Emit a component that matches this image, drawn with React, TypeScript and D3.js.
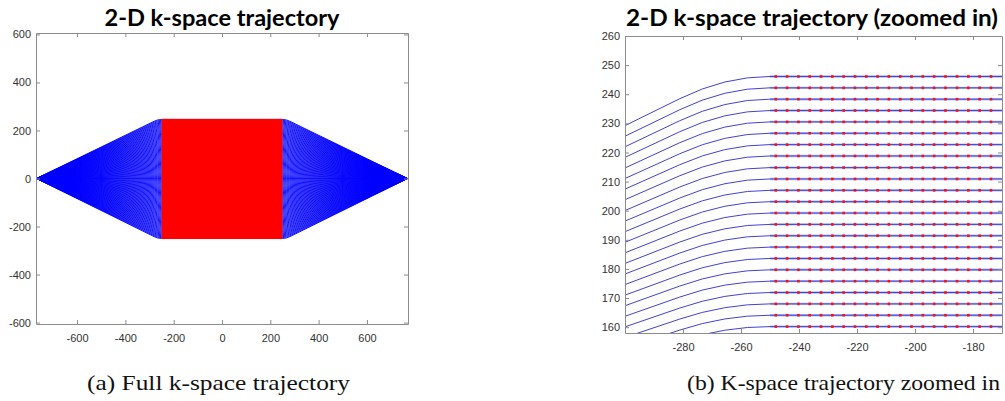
import React, { useEffect, useRef } from 'react';
import * as d3 from 'd3';

// phase-encode lines (ky), 128 of them
const kyLines = [
  -250.0, -246.1, -242.2, -238.3, -234.4, -230.5, -226.6, -222.7, -218.8, -214.8, -210.9, -207.0, -203.1, -199.2, -195.3, -191.4,
  -187.5, -183.6, -179.7, -175.8, -171.9, -168.0, -164.1, -160.2, -156.3, -152.3, -148.4, -144.5, -140.6, -136.7, -132.8, -128.9,
  -125.0, -121.1, -117.2, -113.3, -109.4, -105.5, -101.6, -97.7, -93.8, -89.8, -85.9, -82.0, -78.1, -74.2, -70.3, -66.4,
  -62.5, -58.6, -54.7, -50.8, -46.9, -43.0, -39.1, -35.2, -31.3, -27.3, -23.4, -19.5, -15.6, -11.7, -7.8, -3.9,
  0, 3.9, 7.8, 11.7, 15.6, 19.5, 23.4, 27.3, 31.3, 35.2, 39.1, 43.0, 46.9, 50.8, 54.7, 58.6,
  62.5, 66.4, 70.3, 74.2, 78.1, 82.0, 85.9, 89.8, 93.8, 97.7, 101.6, 105.5, 109.4, 113.3, 117.2, 121.1,
  125.0, 128.9, 132.8, 136.7, 140.6, 144.5, 148.4, 152.3, 156.3, 160.2, 164.1, 168.0, 171.9, 175.8, 179.7, 183.6,
  187.5, 191.4, 195.3, 199.2, 203.1, 207.0, 210.9, 214.8, 218.8, 222.7, 226.6, 230.5, 234.4, 238.3, 242.2, 246.1,
];

// readout sample positions (kx), the red dots
const kxSamples = [
  -248.0, -244.1, -240.2, -236.3, -232.4, -228.5, -224.6, -220.7, -216.8, -212.9, -209.0, -205.1, -201.2, -197.3, -193.4, -189.5,
  -185.5, -181.6, -177.7, -173.8, -169.9, -166.0, -162.1, -158.2, -154.3, -150.4, -146.5, -142.6, -138.7, -134.8, -130.9, -127.0,
  -123.0, -119.1, -115.2, -111.3, -107.4, -103.5, -99.6, -95.7, -91.8, -87.9, -84.0, -80.1, -76.2, -72.3, -68.4, -64.5,
  -60.5, -56.6, -52.7, -48.8, -44.9, -41.0, -37.1, -33.2, -29.3, -25.4, -21.5, -17.6, -13.7, -9.8, -5.9, -2.0,
  2.0, 5.9, 9.8, 13.7, 17.6, 21.5, 25.4, 29.3, 33.2, 37.1, 41.0, 44.9, 48.8, 52.7, 56.6, 60.5,
  64.5, 68.4, 72.3, 76.2, 80.1, 84.0, 87.9, 91.8, 95.7, 99.6, 103.5, 107.4, 111.3, 115.2, 119.1, 123.0,
  127.0, 130.9, 134.8, 138.7, 142.6, 146.5, 150.4, 154.3, 158.2, 162.1, 166.0, 169.9, 173.8, 177.7, 181.6, 185.5,
  189.5, 193.4, 197.3, 201.2, 205.1, 209.0, 212.9, 216.8, 220.7, 224.6, 228.5, 232.4, 236.3, 240.2, 244.1, 248.0,
];

const fullTicks = [-600, -400, -200, 0, 200, 400, 600];
const zoomXTicks = [-280, -260, -240, -220, -200, -180];
const zoomYTicks = [160, 170, 180, 190, 200, 210, 220, 230, 240, 250, 260];

// trajectory shape: straight ramp from the tip, rounded bend into the readout line
const tipX = 768;
const bendX = 281.1;
const ctrlX = 265.6;
const readX = 250;
const bendFrac = 0.969;

const titles = ['2-D k-space trajectory', '2-D k-space trajectory (zoomed in)'];
const captions = ['(a) Full k-space trajectory', '(b) K-space trajectory zoomed in'];

const trajPath = (x, y, ky) => {
  const p = d3.path();
  p.moveTo(x(-tipX), y(0));
  p.lineTo(x(-bendX), y(ky * bendFrac));
  p.quadraticCurveTo(x(-ctrlX), y(ky), x(-readX), y(ky));
  p.lineTo(x(readX), y(ky));
  p.quadraticCurveTo(x(ctrlX), y(ky), x(bendX), y(ky * bendFrac));
  p.lineTo(x(tipX), y(0));
  return p.toString();
};

const drawAxes = (svg, x, y, xTicks, yTicks) => {
  const [x0, x1] = x.range();
  const [y0, y1] = y.range();
  const fmt = (d) => String(d);
  const g = svg.append('g');

  g.append('g').attr('transform', `translate(0,${y0})`)
    .call(d3.axisBottom(x).tickValues(xTicks).tickFormat(fmt).tickSizeInner(-4).tickSizeOuter(0).tickPadding(10));
  g.append('g').attr('transform', `translate(0,${y1})`)
    .call(d3.axisTop(x).tickValues(xTicks).tickFormat(() => '').tickSizeInner(-4).tickSizeOuter(0));
  g.append('g').attr('transform', `translate(${x0},0)`)
    .call(d3.axisLeft(y).tickValues(yTicks).tickFormat(fmt).tickSizeInner(-4).tickSizeOuter(0).tickPadding(5));
  g.append('g').attr('transform', `translate(${x1},0)`)
    .call(d3.axisRight(y).tickValues(yTicks).tickFormat(() => '').tickSizeInner(-4).tickSizeOuter(0));

  g.selectAll('path.domain').attr('stroke', '#8c8c8c');
  g.selectAll('.tick line').attr('stroke', '#8c8c8c');
  g.selectAll('.tick text')
    .attr('fill', '#333')
    .style('font-family', '"Liberation Sans", Arial, sans-serif')
    .style('font-size', '11px');
};

const App = () => {
  const svgRef = useRef(null);

  useEffect(() => {
    const svg = d3.select(svgRef.current);
    svg.selectAll('*').remove();

    // ---- (a) full trajectory
    const xL = d3.scaleLinear().domain([-770, 770]).range([36, 408]);
    const yL = d3.scaleLinear().domain([-606, 606]).range([324, 33]);

    const left = svg.append('g');
    left.append('g')
      .selectAll('path')
      .data(kyLines)
      .enter()
      .append('path')
      .attr('d', (d) => trajPath(xL, yL, d))
      .attr('fill', 'none')
      .attr('stroke', '#0000ff')
      .attr('stroke-width', 0.9);

    // sample grid is denser than a pixel here, so it reads as a solid block
    const [kxMin, kxMax] = d3.extent(kxSamples);
    const [kyMin, kyMax] = d3.extent(kyLines);
    left.append('rect')
      .attr('x', xL(kxMin) - 0.5)
      .attr('y', yL(kyMax) - 0.5)
      .attr('width', xL(kxMax) - xL(kxMin) + 1)
      .attr('height', yL(kyMin) - yL(kyMax) + 1)
      .attr('fill', '#ff0000');

    drawAxes(svg, xL, yL, fullTicks, fullTicks);

    // ---- (b) zoomed in
    const xR = d3.scaleLinear().domain([-300, -170]).range([625, 1002]);
    const yR = d3.scaleLinear().domain([158, 260]).range([333, 36]);

    svg.append('clipPath').attr('id', 'zoomclip')
      .append('rect')
      .attr('x', 625).attr('y', 36)
      .attr('width', 1002 - 625).attr('height', 333 - 36);

    const right = svg.append('g').attr('clip-path', 'url(#zoomclip)');
    const visLines = kyLines.filter((d) => d > 140);

    right.append('g')
      .selectAll('line')
      .data(visLines)
      .enter()
      .append('line')
      .attr('x1', xR(-readX))
      .attr('x2', xR(readX))
      .attr('y1', (d) => yR(d))
      .attr('y2', (d) => yR(d))
      .attr('stroke', '#b9b9f3')
      .attr('stroke-width', 2.4);

    right.append('g')
      .selectAll('path')
      .data(visLines)
      .enter()
      .append('path')
      .attr('d', (d) => trajPath(xR, yR, d))
      .attr('fill', 'none')
      .attr('stroke', '#4141d6')
      .attr('stroke-width', 1);

    const [dx0, dx1] = xR.domain();
    const [dy0, dy1] = yR.domain();
    const dots = [];
    visLines.filter((ky) => ky >= dy0 && ky <= dy1).forEach((ky) => {
      kxSamples.filter((kx) => kx >= dx0 && kx <= dx1).forEach((kx) => dots.push({ kx, ky }));
    });

    right.append('g')
      .selectAll('rect')
      .data(dots)
      .enter()
      .append('rect')
      .attr('x', (d) => xR(d.kx) - 1.3)
      .attr('y', (d) => yR(d.ky) - 1.3)
      .attr('width', 2.6)
      .attr('height', 2.6)
      .attr('fill', '#ff0d0d');

    drawAxes(svg, xR, yR, zoomXTicks, zoomYTicks);

    // ---- titles and captions
    const titleX = [222, 812];
    const titleW = [235, 372];
    svg.append('g')
      .selectAll('text')
      .data(titles)
      .enter()
      .append('text')
      .attr('x', (d, i) => titleX[i])
      .attr('y', 26)
      .attr('text-anchor', 'middle')
      .attr('textLength', (d, i) => titleW[i])
      .attr('lengthAdjust', 'spacingAndGlyphs')
      .style('font-family', 'Lato, "Open Sans", sans-serif')
      .style('font-weight', 700)
      .style('font-size', '23px')
      .attr('fill', '#000')
      .text((d) => d);

    const capX = [218.5, 843.5];
    const capW = [263, 313];
    svg.append('g')
      .selectAll('text')
      .data(captions)
      .enter()
      .append('text')
      .attr('x', (d, i) => capX[i])
      .attr('y', 390)
      .attr('text-anchor', 'middle')
      .attr('textLength', (d, i) => capW[i])
      .attr('lengthAdjust', 'spacingAndGlyphs')
      .style('font-family', '"Liberation Serif", "DejaVu Serif", serif')
      .style('font-size', '22px')
      .attr('fill', '#111')
      .text((d) => d);
  }, []);

  return (
    <svg
      ref={svgRef}
      width={1005}
      height={401}
      style={{ position: 'absolute', left: 0, top: 0, background: '#fff' }}
    />
  );
};

export default App;
